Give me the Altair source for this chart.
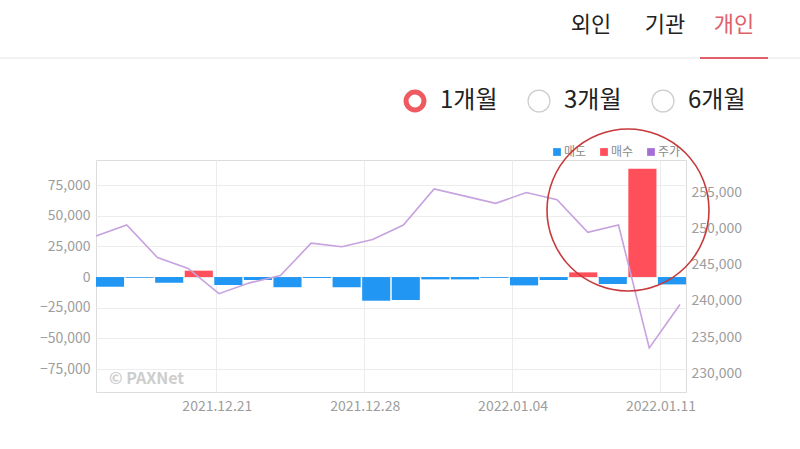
import altair as alt
import pandas as pd

# ---------------- data ----------------
dates = ["2021.12.15", "2021.12.16", "2021.12.17", "2021.12.20", "2021.12.21",
         "2021.12.22", "2021.12.23", "2021.12.24", "2021.12.27", "2021.12.28",
         "2021.12.29", "2021.12.30", "2021.12.31", "2022.01.03", "2022.01.04",
         "2022.01.05", "2022.01.06", "2022.01.07", "2022.01.10", "2022.01.11"]
net_volume = [-7900, -600, -4600, 5200, -6500,
              -2400, -8300, -800, -8300, -19300,
              -18700, -1900, -1900, -700, -6800,
              -2400, 3800, -5700, 88300, -6000]
price = [249000, 250500, 246000, 244500, 241000,
         242500, 243500, 248000, 247500, 248500,
         250500, 255500, 254500, 253500, 255000,
         254000, 249500, 250500, 233500, 239500]
tick_dates = ["2021.12.21", "2021.12.28", "2022.01.04", "2022.01.11"]
left_ticks = [75000, 50000, 25000, 0, -25000, -50000, -75000]
right_ticks = [230000, 235000, 240000, 245000, 250000, 255000]
legend_labels = ["매도", "매수", "주가"]
tabs = ["외인", "기관", "개인"]
periods = ["1개월", "3개월", "6개월"]

# ---------------- style ----------------
FONT = "Noto Sans CJK KR"
BLUE = "#2196F3"
RED = "#FF4F5A"
PURPLE_LINE = "#C6A2DE"
PURPLE_LEG = "#A56FD8"
LABEL = "#9d9d9d"
GRID = "#ececec"
CIRCLE = "#C8393B"
OX, OY = 96, 160
W, H = 590, 232

bar_df = pd.DataFrame({"date": dates, "value": net_volume})
bar_df["type"] = ["매도" if v < 0 else "매수" for v in net_volume]
line_df = pd.DataFrame({"date": dates, "price": price})

bars = alt.Chart(bar_df).mark_bar().encode(
    x=alt.X("date:N", sort=dates, title=None,
            scale=alt.Scale(paddingInner=0.05, paddingOuter=0),
            axis=alt.Axis(values=tick_dates, labelAngle=0, ticks=False, domain=False,
                          grid=True, gridColor=GRID, bandPosition=0.08,
                          labelOffset=-11, labelColor=LABEL, labelFontSize=14,
                          labelPadding=7, labelFont=FONT)),
    y=alt.Y("value:Q", title=None,
            scale=alt.Scale(domain=[-93700, 95400], nice=False),
            axis=alt.Axis(values=left_ticks, format=",.0f", ticks=False, domain=False,
                          grid=True, gridColor=GRID, labelColor=LABEL,
                          labelFontSize=14, labelPadding=6, labelFont=FONT)),
    color=alt.Color("type:N", scale=alt.Scale(domain=["매도", "매수"], range=[BLUE, RED]),
                    legend=None),
)

line = alt.Chart(line_df).mark_line(color=PURPLE_LINE, strokeWidth=1.6).encode(
    x=alt.X("date:N", sort=dates, title=None,
            scale=alt.Scale(type="point", padding=0, range=[0, 584]), axis=None),
    y=alt.Y("price:Q", title=None,
            scale=alt.Scale(domain=[227400, 259500], nice=False, zero=False),
            axis=alt.Axis(orient="right", values=right_ticks, format=",.0f", grid=False,
                          ticks=False, domain=False, labelColor=LABEL,
                          labelFontSize=14, labelPadding=5, labelFont=FONT)),
)

one = alt.Data(values=[{}])


def txt(s, x, y, size, color, align="left", weight="normal"):
    return alt.Chart(one).mark_text(
        text=s, align=align, baseline="middle", fontSize=size, color=color,
        font=FONT, fontWeight=weight
    ).encode(x=alt.value(x - OX), y=alt.value(y - OY))


layers = [bars, line]

# watermark
layers.append(txt("© PAXNet", 109, 379, 16, "#cdcdcd", weight="bold"))

# legend
leg_colors = [BLUE, RED, PURPLE_LEG]
leg_x = [557, 604, 651]
for lab, col, lx in zip(legend_labels, leg_colors, leg_x):
    layers.append(alt.Chart(one).mark_square(size=60, color=col, opacity=1).encode(
        x=alt.value(lx - OX), y=alt.value(152 - OY)))
    layers.append(txt(lab, lx + 7, 152, 12, "#8a8a8a"))

# header tabs
tab_x = [591, 665, 734]
tab_col = ["#222222", "#222222", "#E0606A"]
for t, tx, tc in zip(tabs, tab_x, tab_col):
    layers.append(txt(t, tx, 25, 22, tc, align="center"))
layers.append(alt.Chart(one).mark_rule(color="#e6e6e6", strokeWidth=1).encode(
    x=alt.value(0 - OX), x2=alt.value(800 - OX), y=alt.value(58 - OY)))
layers.append(alt.Chart(one).mark_rule(color="#E0606A", strokeWidth=2).encode(
    x=alt.value(700 - OX), x2=alt.value(768 - OX), y=alt.value(58 - OY)))

# period radio buttons
radio_x = [415, 539, 663]
for i, (p, rx) in enumerate(zip(periods, radio_x)):
    if i == 0:
        layers.append(alt.Chart(one).mark_point(
            shape="circle", size=320, filled=False, stroke="#EE5A60", strokeWidth=5,
            opacity=1).encode(x=alt.value(rx - OX), y=alt.value(101 - OY)))
    else:
        layers.append(alt.Chart(one).mark_point(
            shape="circle", size=480, filled=False, stroke="#cccccc", strokeWidth=1.2,
            opacity=1).encode(x=alt.value(rx - OX), y=alt.value(101 - OY)))
    layers.append(txt(p, rx + 25, 101, 24, "#222222"))

# hand-drawn highlight circle
layers.append(alt.Chart(one).mark_arc(
    theta=0, theta2=6.2832, radius=81, fillOpacity=0, stroke=CIRCLE, strokeWidth=1.6
).encode(x=alt.value(628 - OX), y=alt.value(210 - OY)))

chart = alt.layer(*layers).resolve_scale(
    x="independent", y="independent", color="independent"
).properties(
    width=W, height=H,
    autosize=alt.AutoSizeParams(type="none"),
    padding={"left": OX, "top": OY, "right": 800 - OX - W, "bottom": 449 - OY - H},
    background="white",
).configure_view(stroke="#dcdcdc", strokeWidth=1)

chart.save("out.html", embed_options={"renderer": "svg", "actions": False})
